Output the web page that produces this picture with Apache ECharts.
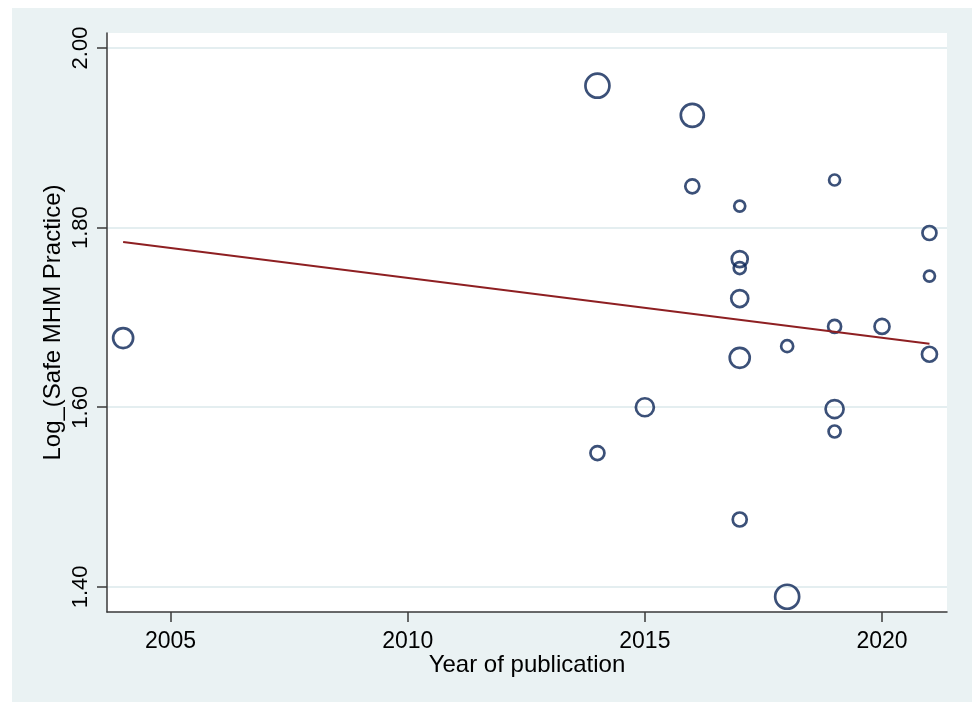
<!DOCTYPE html>
<html>
<head>
<meta charset="utf-8">
<script src="https://cdn.jsdelivr.net/npm/echarts@6/dist/echarts.min.js"></script>
<style>
html,body{margin:0;padding:0;background:#fff;}
#chart{width:972px;height:702px;}
</style>
</head>
<body>
<div id="chart"></div>
<script>
// Study-level data (year of publication, log safe MHM practice, study weight as marker diameter)
var years   = [2004, 2014, 2014, 2015, 2016, 2016, 2017, 2017, 2017, 2017, 2017, 2017, 2018, 2018, 2019, 2019, 2019, 2019, 2020, 2021, 2021, 2021];
var logMHM  = [1.677, 1.958, 1.549, 1.600, 1.925, 1.846, 1.824, 1.765, 1.755, 1.721, 1.655, 1.475, 1.668, 1.389, 1.853, 1.690, 1.598, 1.573, 1.690, 1.794, 1.746, 1.659];
var weights = [20, 24, 14, 18, 23, 14, 11, 16, 12, 17, 20, 14, 12, 24, 11, 13, 18, 12, 15, 14, 11, 15];
// Fitted meta-regression line (endpoints)
var fitYears = [2004, 2021];
var fitVals  = [1.784, 1.6706];
// Axis ticks
var xTicks = [2005, 2010, 2015, 2020];
var yTicks = [1.40, 1.60, 1.80, 2.00];

var pts = years.map(function (y, i) { return [y, logMHM[i], weights[i]]; });
var fit = fitYears.map(function (y, i) { return [y, fitVals[i]]; });

var chart = echarts.init(document.getElementById('chart'));
var font = '"Liberation Sans", Arial, sans-serif';
chart.setOption({
  backgroundColor: '#ffffff',
  animation: false,
  graphic: [{
    type: 'rect', z: -10, silent: true,
    shape: { x: 12, y: 8, width: 960, height: 694 },
    style: { fill: '#eaf2f3' }
  }],
  grid: {
    left: 107, top: 33, right: 25, bottom: 90,
    show: true, backgroundColor: '#ffffff', borderWidth: 0
  },
  xAxis: {
    type: 'value', min: 2003.66, max: 2021.37,
    name: 'Year of publication', nameLocation: 'middle', nameGap: 41, nameMoveOverlap: false,
    nameTextStyle: { fontFamily: font, fontSize: 24, color: '#000' },
    axisLine: { show: true, onZero: false, lineStyle: { color: '#3a3a3a', width: 1.5 } },
    axisTick: { show: true, length: 10, customValues: xTicks, lineStyle: { color: '#3a3a3a', width: 1.5 } },
    axisLabel: {
      customValues: xTicks, margin: 18, fontFamily: font, fontSize: 23, color: '#000',
      formatter: function (v) { return String(v); }
    },
    splitLine: { show: false }
  },
  yAxis: {
    type: 'value', min: 1.372, max: 2.0167,
    name: 'Log_(Safe MHM Practice)', nameLocation: 'middle', nameGap: 42, nameMoveOverlap: false,
    nameTextStyle: { fontFamily: font, fontSize: 24, color: '#000' },
    axisLine: { show: true, onZero: false, lineStyle: { color: '#3a3a3a', width: 1.5 } },
    axisTick: { show: true, length: 10, customValues: yTicks, lineStyle: { color: '#3a3a3a', width: 1.5 } },
    axisLabel: {
      customValues: yTicks, rotate: 90, margin: 15, fontFamily: font, fontSize: 22, color: '#000',
      formatter: function (v) { return v.toFixed(2); }
    },
    splitLine: { show: true, lineStyle: { color: '#e4eef0', width: 2 } }
  },
  series: [{
    type: 'scatter',
    data: pts,
    symbol: 'circle',
    symbolSize: function (d) { return d[2]; },
    itemStyle: { color: 'rgba(255,255,255,0)', borderColor: '#0a2456', borderWidth: 2.7 },
    z: 3
  }, {
    type: 'line',
    data: fit,
    showSymbol: false,
    lineStyle: { color: '#8e1f22', width: 2 },
    z: 4
  }]
});
</script>
</body>
</html>
